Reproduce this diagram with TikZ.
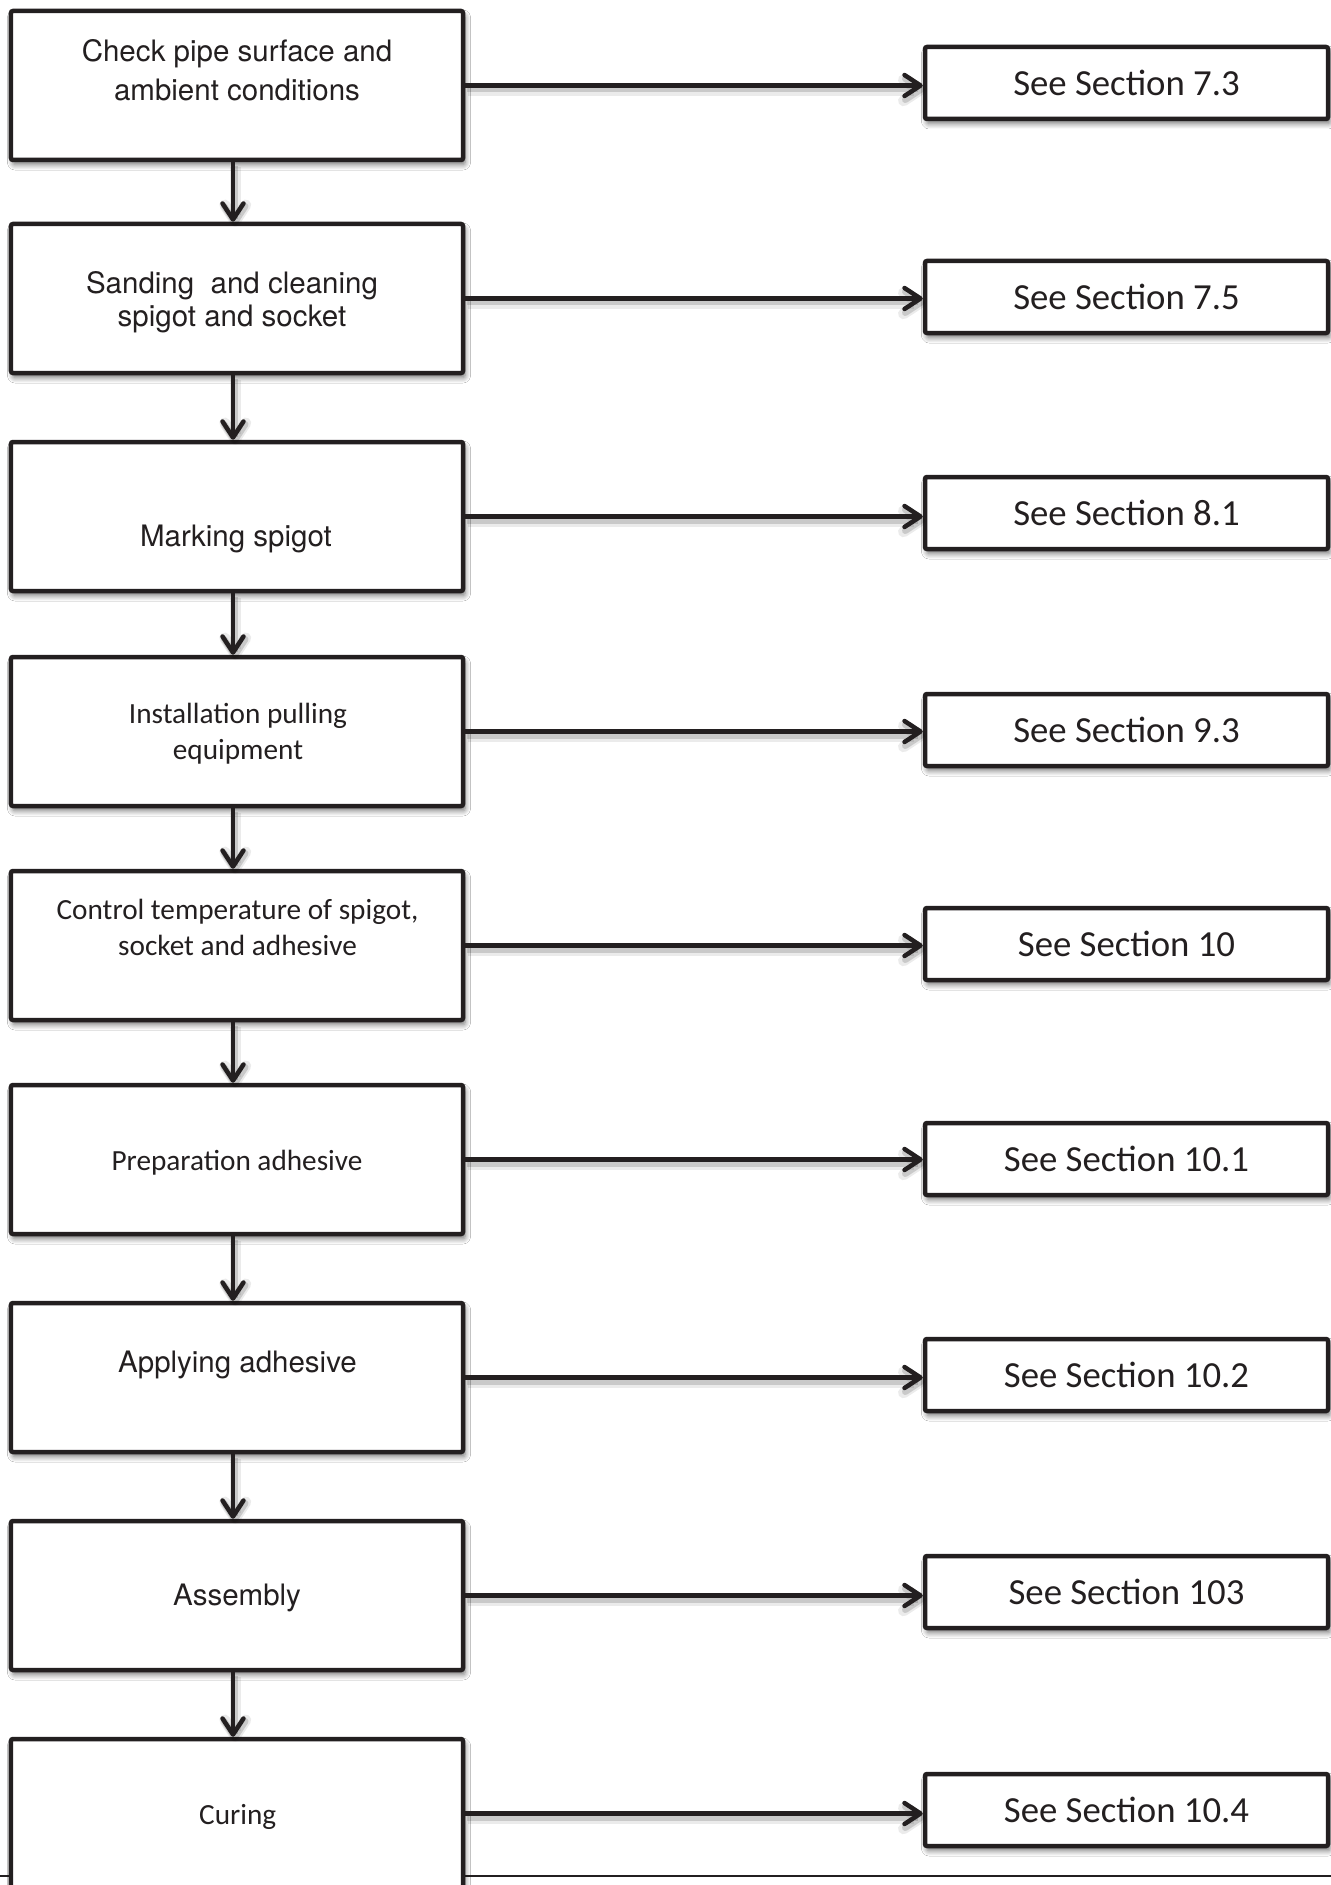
\documentclass[tikz,border=0pt]{standalone}
\usepackage{fontspec}
\newfontfamily\hvfont{TeX Gyre Heros}
\newfontfamily\clfont{Carlito}
\usetikzlibrary{arrows.meta,shadows.blur}
\definecolor{ink}{HTML}{231F20}
\begin{document}
\begin{tikzpicture}[x=0.4pt,y=-0.4pt,
  boxshadow/.style={blur shadow={shadow xshift=0.8pt,shadow yshift=-1.8pt,shadow blur radius=2.2pt,shadow blur steps=6,shadow opacity=55}},
  stepbox/.style={draw=ink,line width=1.8pt,fill=white,rounded corners=0.8pt,
    minimum width=180.8pt,minimum height=59.6pt,inner sep=0pt,boxshadow},
  secbox/.style={draw=ink,line width=1.8pt,fill=white,rounded corners=0.8pt,
    minimum width=161.2pt,minimum height=28.8pt,inner sep=0pt,boxshadow,
    text=ink,font=\clfont\fontsize{14.7pt}{17pt}\selectfont},
  hvtext/.style={text=ink,inner sep=0pt,align=center,font=\hvfont\fontsize{11.8pt}{15.6pt}\selectfont},
  cltext/.style={text=ink,inner sep=0pt,align=center,font=\clfont\fontsize{11.7pt}{14.4pt}\selectfont},
  conn/.style={draw=ink,line width=1.8pt,
    -{Straight Barb[length=6.4pt,width=8.4pt,round]},
    preaction={draw=black,opacity=0.08,line width=4.4pt,transform canvas={xshift=0.9pt,yshift=-1.9pt}},
    preaction={draw=black,opacity=0.14,line width=2.6pt,transform canvas={xshift=0.7pt,yshift=-1.5pt}}}
]
\useasboundingbox (0,0) rectangle (1331,1885);
\clip (0,0) rectangle (1331,1885);
\fill[white] (0,0) rectangle (1331,1885);

% bottom rule
\draw[ink,line width=0.8pt] (0,1876) -- (1331,1876);

% left step boxes
\node[stepbox] (b1) at (237,85.5) {};
\node[stepbox] (b2) at (237,298.5) {};
\node[stepbox] (b3) at (237,516.5) {};
\node[stepbox] (b4) at (237,731.5) {};
\node[stepbox] (b5) at (237,945.5) {};
\node[stepbox] (b6) at (237,1159.5) {};
\node[stepbox] (b7) at (237,1377.5) {};
\node[stepbox] (b8) at (237,1595.5) {};
\node[stepbox] (b9) at (237,1813.5) {};

% texts
\node[hvtext] (t1) at (237,70) {Check pipe surface and\\ambient conditions};
\node[hvtext,font=\hvfont\fontsize{11.8pt}{13.4pt}\selectfont] (t2) at (232,302.4) {Sanding\ \ and cleaning\\spigot and socket};
\node[hvtext,anchor=base] (t3) at (236,546.7) {Marking spigot};
\node[cltext] (t4) at (238,733.6) {Installation pulling\\equipment};
\node[cltext] (t5) at (237.5,927) {Control temperature of spigot,\\socket and adhesive};
\node[cltext,anchor=base] (t6) at (237,1170) {Preparation adhesive};
\node[hvtext,anchor=base] (t7) at (237.5,1372) {Applying adhesive};
\node[hvtext,anchor=base] (t8) at (237,1605) {Assembly};
\node[cltext,anchor=base] (t9) at (237.7,1824) {Curing};

% right section boxes
\node[secbox] (r1) at (1126.5,83) {See Section 7.3};
\node[secbox] (r2) at (1126.5,297) {See Section 7.5};
\node[secbox] (r3) at (1126.5,513) {See Section 8.1};
\node[secbox] (r4) at (1126.5,730) {See Section 9.3};
\node[secbox] (r5) at (1126.5,944) {See Section 10};
\node[secbox] (r6) at (1126.5,1159) {See Section 10.1};
\node[secbox] (r7) at (1126.5,1375) {See Section 10.2};
\node[secbox] (r8) at (1126.5,1592) {See Section 103};
\node[secbox] (r9) at (1126.5,1810) {See Section 10.4};

% vertical flow
\coordinate (vx) at (233,0);
\foreach \a/\b in {b1/b2,b2/b3,b3/b4,b4/b5,b5/b6,b6/b7,b7/b8,b8/b9}
  \draw[conn] (\a.south -| vx) -- (\b.north -| vx);

% horizontal references
\foreach \i in {1,...,9}
  \draw[conn] (b\i.east) -- (b\i.east -| r\i.west);
\end{tikzpicture}
\end{document}
